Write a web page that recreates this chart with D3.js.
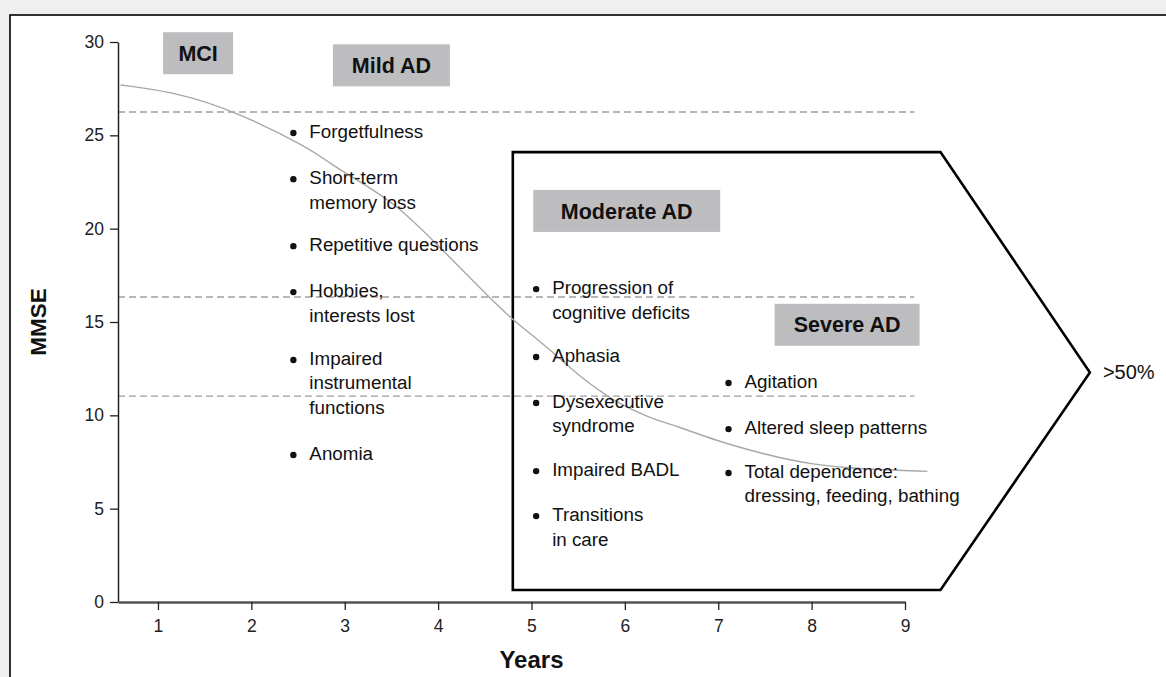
<!DOCTYPE html>
<html>
<head>
<meta charset="utf-8">
<script src="https://cdnjs.cloudflare.com/ajax/libs/d3/7.8.5/d3.min.js"></script>
<style>
  html, body { margin: 0; padding: 0; background: #efefef; }
  svg { display: block; font-family: "Liberation Sans", Arial, sans-serif; }
</style>
</head>
<body>
<svg id="chart"></svg>
<script>
"use strict";
// MMSE decline curve
var years = [0.6, 1.2, 1.85, 2.63, 2.84, 3.1, 3.56, 4.02, 4.55, 4.8, 5.16, 5.52, 5.87, 6.24, 6.59, 6.94, 7.5, 8.0, 8.6, 9.24];
var mmse  = [27.7, 27.3, 26.25, 24.3, 23.5, 22.7, 21.3, 19.0, 16.3, 15.1, 13.7, 12.05, 10.8, 9.9, 9.37, 8.7, 7.9, 7.35, 7.1, 7.0];

var xTicks = [1, 2, 3, 4, 5, 6, 7, 8, 9];
var yTicks = [0, 5, 10, 15, 20, 25, 30];

// stage thresholds (dashed lines)
var cutoffs = [26.25, 16.34, 11.03];

// stage labels: name, year, mmse at centre
var stageNames = ["MCI", "Mild AD", "Moderate AD", "Severe AD"];
var stageYears = [1.43, 3.5, 6.02, 8.38];
var stageMmse  = [29.4, 28.75, 20.95, 14.85];

// symptom lists: text lines and mmse level of the first line
var mildItems = [["Forgetfulness"], ["Short-term", "memory loss"], ["Repetitive questions"],
  ["Hobbies,", "interests lost"], ["Impaired", "instrumental", "functions"], ["Anomia"]];
var mildLevels = [25.23, 22.76, 19.17, 16.71, 13.07, 7.98];
var moderateItems = [["Progression of", "cognitive deficits"], ["Aphasia"], ["Dysexecutive", "syndrome"],
  ["Impaired BADL"], ["Transitions", "in care"]];
var moderateLevels = [16.87, 13.23, 10.77, 7.12, 4.71];
var severeItems = [["Agitation"], ["Altered sleep patterns"], ["Total dependence:", "dressing, feeding, bathing"]];
var severeLevels = [11.84, 9.37, 7.02];
var listYears = [2.45, 5.05, 7.11];

// arrow-shaped box around moderate/severe stages
var boxYears = [4.8, 9.38, 10.98, 9.38, 4.8];
var boxMmse  = [24.1, 24.1, 12.3, 0.64, 0.64];
var arrowLabel = ">50%";

var W = 1166, H = 677;
var svg = d3.select("#chart").attr("width", W).attr("height", H);

// white panel
svg.append("rect").attr("x", 10).attr("y", 15).attr("width", W + 20).attr("height", H + 20)
  .attr("fill", "#fff").attr("stroke", "#000").attr("stroke-width", 1.6);

var x = d3.scaleLinear().domain([0.572, 9]).range([118, 905]);
var y = d3.scaleLinear().domain([0, 30]).range([602, 42]);

// dashed cutoffs
svg.selectAll("line.cut").data(cutoffs).enter().append("line")
  .attr("class", "cut")
  .attr("x1", x(0.572)).attr("x2", x(9.1))
  .attr("y1", function(d) { return y(d); }).attr("y2", function(d) { return y(d); })
  .attr("stroke", "#a0a0a0").attr("stroke-width", 1.3).attr("stroke-dasharray", "7,4");

// arrow box
var boxPts = boxYears.map(function(d, i) { return [x(d), y(boxMmse[i])]; });
svg.append("path")
  .attr("d", d3.line()(boxPts) + "Z")
  .attr("fill", "none").attr("stroke", "#000").attr("stroke-width", 2.6)
  .attr("stroke-linejoin", "miter");
svg.append("text").attr("x", x(10.98) + 13).attr("y", y(12.3) + 1)
  .attr("dominant-baseline", "middle").attr("font-size", 20).attr("fill", "#111")
  .text(arrowLabel);

// curve
var pts = years.map(function(d, i) { return [d, mmse[i]]; });
svg.append("path")
  .attr("d", d3.line().x(function(d) { return x(d[0]); }).y(function(d) { return y(d[1]); })
    .curve(d3.curveBasis)(pts))
  .attr("fill", "none").attr("stroke", "#a8a8a8").attr("stroke-width", 1.4);

// axes
var yAxis = svg.append("g").attr("transform", "translate(118,0)")
  .call(d3.axisLeft(y).tickValues(yTicks).tickSize(8).tickPadding(6).tickSizeOuter(0));
yAxis.select(".domain").attr("stroke", "#222").attr("stroke-width", 1.5);
yAxis.selectAll(".tick line").attr("stroke", "#222").attr("stroke-width", 1.3);
yAxis.selectAll("text").attr("font-size", 17.5).attr("fill", "#222").attr("font-family", "Liberation Sans, Arial");

var xAxis = svg.append("g").attr("transform", "translate(0,602)")
  .call(d3.axisBottom(x).tickValues(xTicks).tickSize(8).tickPadding(10).tickSizeOuter(0));
xAxis.select(".domain").attr("stroke", "#555").attr("stroke-width", 2.4);
xAxis.selectAll(".tick line").attr("stroke", "#222").attr("stroke-width", 1.3);
xAxis.selectAll("text").attr("font-size", 17.5).attr("fill", "#222").attr("font-family", "Liberation Sans, Arial");

svg.append("text").attr("x", x(5)).attr("y", 668).attr("text-anchor", "middle")
  .attr("font-size", 24).attr("font-weight", "bold").attr("fill", "#111").text("Years");
svg.append("text").attr("transform", "translate(46," + y(15) + ") rotate(-90)")
  .attr("text-anchor", "middle").attr("font-size", 22.5).attr("font-weight", "bold").attr("fill", "#111").text("MMSE");

// stage boxes
var stageWidths = [70, 117, 187, 145];
var stages = svg.selectAll("g.stage").data(stageNames).enter().append("g")
  .attr("class", "stage")
  .attr("transform", function(d, i) { return "translate(" + x(stageYears[i]) + "," + y(stageMmse[i]) + ")"; });
stages.append("rect")
  .attr("x", function(d, i) { return -stageWidths[i] / 2; }).attr("y", -21)
  .attr("width", function(d, i) { return stageWidths[i]; }).attr("height", 42)
  .attr("fill", "#bdbdc0");
stages.append("text").attr("text-anchor", "middle").attr("dominant-baseline", "middle").attr("dy", 2)
  .attr("font-size", 21.5).attr("font-weight", "bold").attr("fill", "#111")
  .text(function(d) { return d; });

// bullet lists
function drawList(items, levels, yr) {
  var g = svg.append("g");
  items.forEach(function(lines, i) {
    var cy = y(levels[i]) + 2;
    g.append("circle").attr("cx", x(yr)).attr("cy", cy).attr("r", 3.2).attr("fill", "#111");
    lines.forEach(function(t, j) {
      g.append("text").attr("x", x(yr) + 16).attr("y", cy + j * 24.5)
        .attr("dominant-baseline", "middle").attr("font-size", 18.8).attr("fill", "#111").text(t);
    });
  });
}
drawList(mildItems, mildLevels, listYears[0]);
drawList(moderateItems, moderateLevels, listYears[1]);
drawList(severeItems, severeLevels, listYears[2]);
</script>
</body>
</html>
